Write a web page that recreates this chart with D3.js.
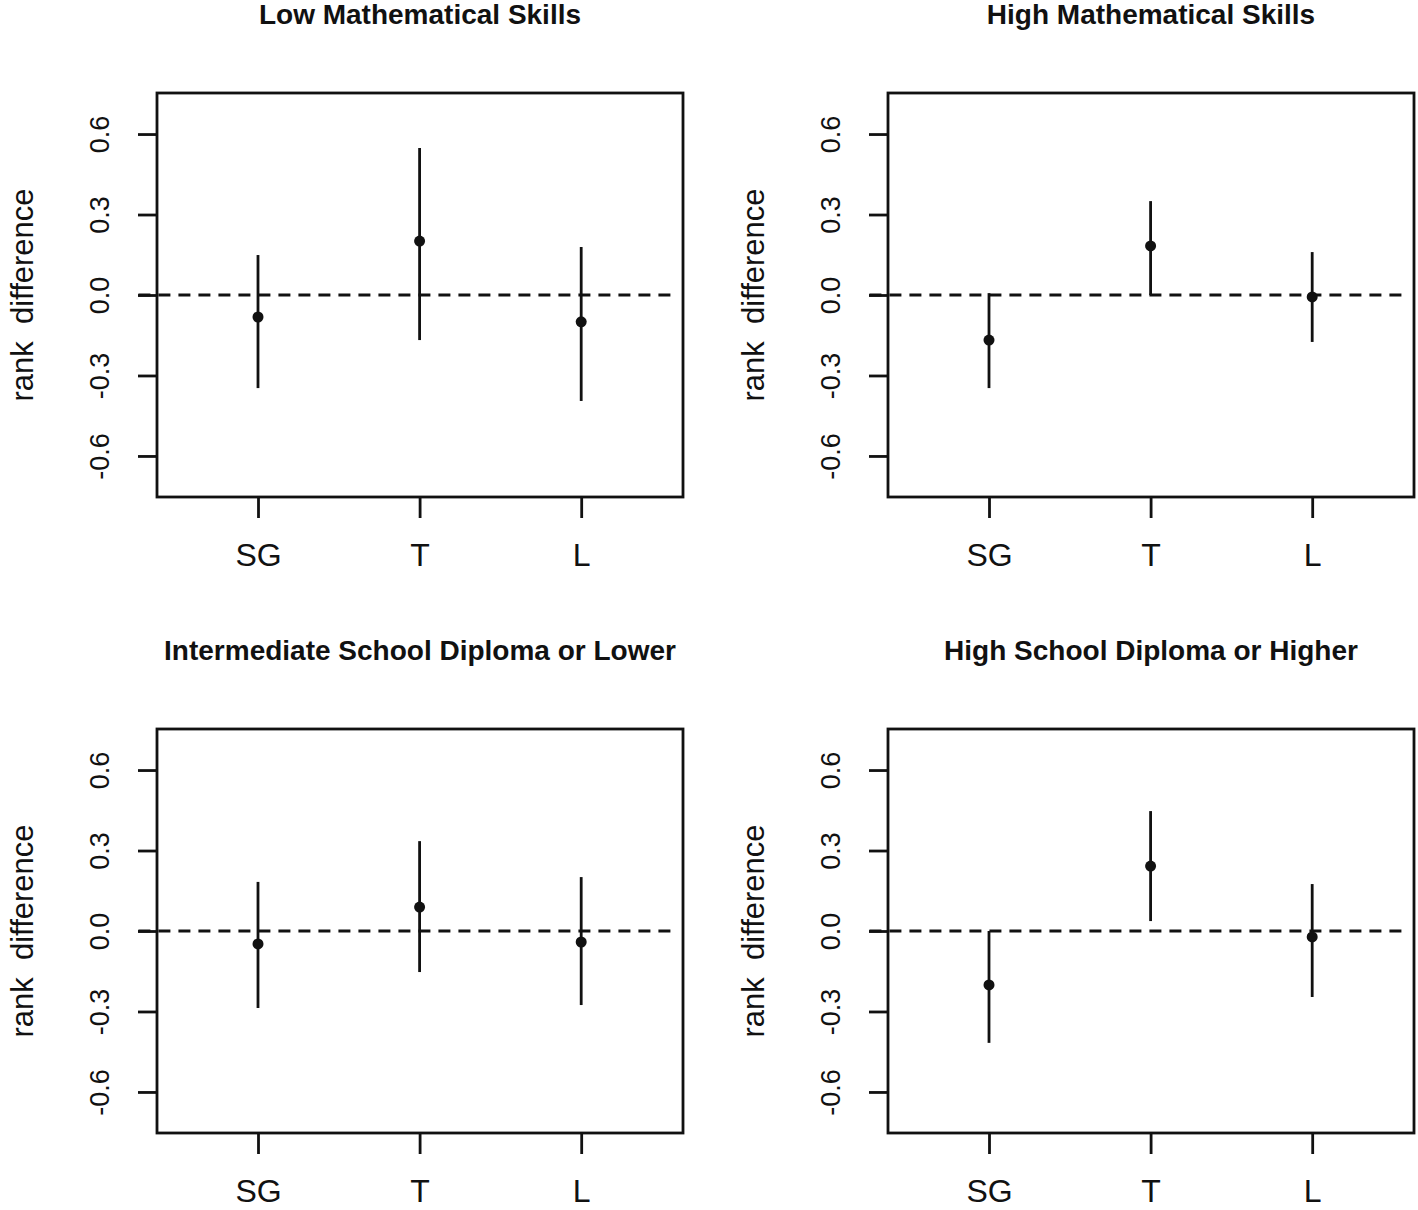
<!DOCTYPE html>
<html>
<head>
<meta charset="utf-8">
<script src="https://cdn.jsdelivr.net/npm/d3@7"></script>
<style>
  body { margin: 0; background: #fff; }
  svg { display: block; }
  text { fill: #111; font-family: "Liberation Sans", Arial, sans-serif; }
</style>
</head>
<body>
<div id="chart"></div>
<script>
// categories on the x axis
var categories = ["SG", "T", "L"];
var yTicks = [-0.6, -0.3, 0, 0.3, 0.6];
var yLabel = "rank  difference";

var panelTitles = [
  "Low Mathematical Skills",
  "High Mathematical Skills",
  "Intermediate School Diploma or Lower",
  "High School Diploma or Higher"
];

// point estimates per panel (SG, T, L)
var estimates = [
  [-0.082, 0.201, -0.100],
  [-0.168, 0.183, -0.007],
  [-0.048, 0.089, -0.041],
  [-0.201, 0.242, -0.022]
];
// interval bounds per panel
var lower = [
  [-0.347, -0.168, -0.395],
  [-0.347, 0.000, -0.175],
  [-0.287, -0.153, -0.276],
  [-0.417, 0.037, -0.246]
];
var upper = [
  [0.149, 0.548, 0.179],
  [0.007, 0.350, 0.160],
  [0.183, 0.335, 0.201],
  [0.000, 0.447, 0.175]
];

var width = 1418, height = 1210;
var boxW = 526, boxH = 404;
var origins = [[157, 93], [888, 93], [157, 729], [888, 729]];

var svg = d3.select("#chart").append("svg")
  .attr("width", width)
  .attr("height", height);

var x = d3.scaleLinear().domain([0.375, 3.63]).range([0, boxW]);
var y = d3.scaleLinear().domain([-0.753, 0.753]).range([boxH, 0]);

panelTitles.forEach(function(title, p) {
  var g = svg.append("g")
    .attr("transform", "translate(" + origins[p][0] + "," + origins[p][1] + ")");

  // title
  g.append("text")
    .attr("x", boxW / 2)
    .attr("y", -69)
    .attr("text-anchor", "middle")
    .style("font-size", "28px")
    .style("font-weight", "bold")
    .text(title);

  // y axis
  var yAxis = g.append("g")
    .call(d3.axisLeft(y).tickValues(yTicks).tickSize(19)
      .tickFormat(function(d) { return d.toFixed(1); }));
  yAxis.select(".domain").remove();
  yAxis.selectAll("line").attr("stroke", "#111").attr("stroke-width", 2.8);
  yAxis.selectAll("text")
    .attr("x", 0).attr("dy", null)
    .attr("transform", "translate(-57,0) rotate(-90)")
    .attr("text-anchor", "middle")
    .attr("dominant-baseline", "central")
    .style("font-size", "27px")
    .style("font-family", "Liberation Sans, Arial, sans-serif");

  // x axis
  var xAxis = g.append("g")
    .attr("transform", "translate(0," + boxH + ")")
    .call(d3.axisBottom(x).tickValues([1, 2, 3]).tickSize(21)
      .tickFormat(function(d, i) { return categories[i]; }));
  xAxis.select(".domain").remove();
  xAxis.selectAll("line").attr("stroke", "#111").attr("stroke-width", 2.8);
  xAxis.selectAll("text")
    .attr("y", 69).attr("dy", null)
    .style("font-size", "32px")
    .style("font-family", "Liberation Sans, Arial, sans-serif");

  // axis title
  g.append("text")
    .attr("transform", "translate(-135," + (boxH / 2) + ") rotate(-90)")
    .attr("text-anchor", "middle")
    .attr("dominant-baseline", "central")
    .style("font-size", "31px")
    .style("white-space", "pre")
    .text(yLabel);

  // reference line at zero
  g.append("line")
    .attr("x1", x(0.26)).attr("x2", x(3.59))
    .attr("y1", y(0)).attr("y2", y(0))
    .attr("stroke", "#111")
    .attr("stroke-width", 2.8)
    .attr("stroke-dasharray", "12,8");

  // intervals
  g.selectAll(".ci")
    .data(categories)
    .enter().append("line")
    .attr("class", "ci")
    .attr("x1", function(d, i) { return x(i + 1); })
    .attr("x2", function(d, i) { return x(i + 1); })
    .attr("y1", function(d, i) { return y(lower[p][i]); })
    .attr("y2", function(d, i) { return y(upper[p][i]); })
    .attr("stroke", "#111")
    .attr("stroke-width", 2.8);

  // estimates
  g.selectAll(".pt")
    .data(categories)
    .enter().append("circle")
    .attr("class", "pt")
    .attr("cx", function(d, i) { return x(i + 1); })
    .attr("cy", function(d, i) { return y(estimates[p][i]); })
    .attr("r", 5.5)
    .attr("fill", "#111");

  // box
  g.append("rect")
    .attr("width", boxW)
    .attr("height", boxH)
    .attr("fill", "none")
    .attr("stroke", "#111")
    .attr("stroke-width", 2.8);
});
</script>
</body>
</html>
